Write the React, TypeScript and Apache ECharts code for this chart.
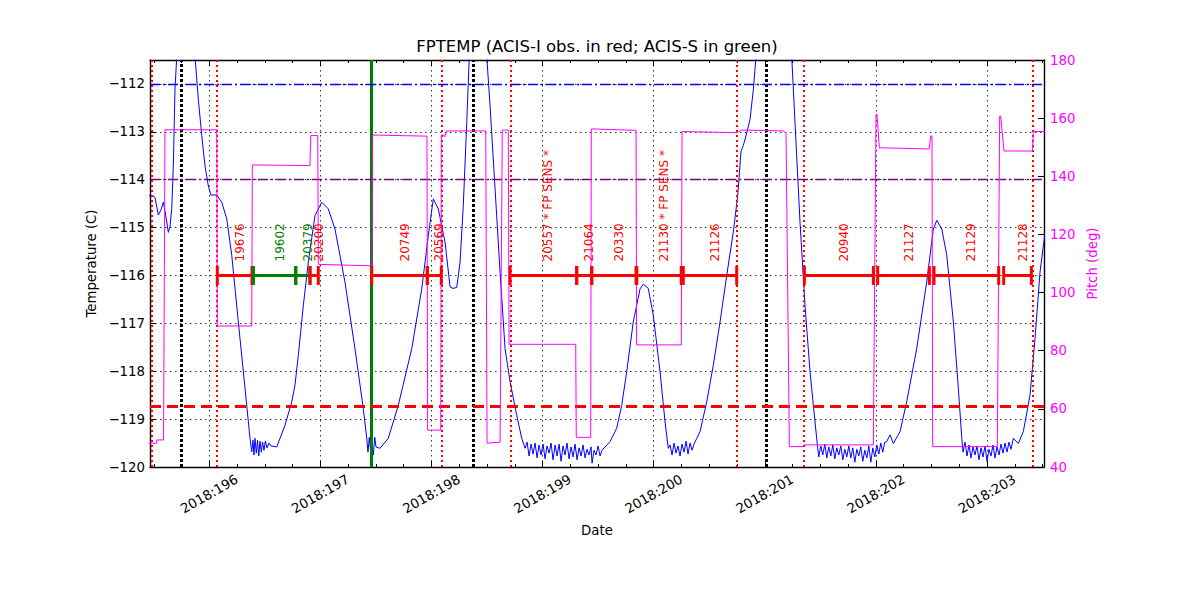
import React, { useEffect, useRef } from "react";
import * as echarts from "echarts";

const FONT = '"DejaVu Sans", "Bitstream Vera Sans", sans-serif';
const RED = "#ff0000";
const GREEN = "#008000";
const BLUE = "#0000ff";
const MAGENTA = "#ff00ff";
const PURPLE = "#800080";

const X_MIN = 195.466;
const X_MAX = 203.513;
const dayTicks = [196, 197, 198, 199, 200, 201, 202, 203];
const minorDayTicks = [
  195.5, 195.75, 196.25, 196.5, 196.75, 197.25, 197.5, 197.75, 198.25, 198.5, 198.75,
  199.25, 199.5, 199.75, 200.25, 200.5, 200.75, 201.25, 201.5, 201.75, 202.25, 202.5,
  202.75, 203.25, 203.5,
];
const tempTicks = [-120, -119, -118, -117, -116, -115, -114, -113, -112];
const pitchTicks = [40, 60, 80, 100, 120, 140, 160, 180];

// FPTEMP (deg C) vs day of year 2018
const fptemp: [number, number][] = [
  [195.448, -114.33], [195.487, -114.33], [195.511, -114.37], [195.541, -114.74], [195.565, -114.63],
  [195.586, -114.47], [195.608, -114.75], [195.631, -115.1], [195.646, -114.98], [195.662, -114.6],
  [195.676, -113.71], [195.691, -112.11], [195.707, -111.42], [195.732, -110.3], [195.772, -109.9],
  [195.817, -110.4], [195.871, -111.42], [195.901, -112.32], [195.932, -113.08], [195.961, -113.71],
  [195.991, -114.13], [196.015, -114.32], [196.067, -114.32], [196.112, -114.47], [196.157, -114.82],
  [196.202, -115.58], [196.261, -116.97], [196.321, -118.35], [196.366, -119.4], [196.382, -119.68],
  [196.393, -119.44], [196.402, -119.75], [196.411, -119.4], [196.423, -119.71], [196.434, -119.44],
  [196.445, -119.77], [196.456, -119.46], [196.468, -119.69], [196.479, -119.48], [196.492, -119.65],
  [196.504, -119.46], [196.519, -119.6], [196.537, -119.5], [196.555, -119.56], [196.607, -119.58],
  [196.681, -119.13], [196.742, -118.64], [196.771, -118.29], [196.801, -117.67], [196.846, -116.63],
  [196.891, -115.72], [196.951, -114.75], [197.012, -114.47], [197.071, -114.61], [197.131, -115.03],
  [197.221, -116.14], [197.311, -117.53], [197.386, -118.78], [197.417, -119.4], [197.428, -119.69],
  [197.44, -119.38], [197.451, -119.65], [197.464, -119.44], [197.476, -119.75], [197.489, -119.38],
  [197.5, -119.58], [197.536, -119.61], [197.611, -119.4], [197.701, -118.71], [197.822, -117.53],
  [197.912, -116.28], [197.971, -115.17], [198.016, -114.4], [198.061, -114.61], [198.122, -115.31],
  [198.167, -116.24], [198.193, -116.27], [198.227, -116.25], [198.257, -115.72], [198.286, -114.54],
  [198.317, -112.81], [198.34, -111.42], [198.365, -110.6], [198.419, -110.0], [198.473, -110.5],
  [198.497, -111.42], [198.527, -112.46], [198.572, -114.19], [198.617, -115.93], [198.662, -117.53],
  [198.707, -118.22], [198.767, -118.92], [198.812, -119.4], [198.842, -119.61],
  [198.86, -119.48], [198.878, -119.77], [198.896, -119.52], [198.914, -119.73], [198.932, -119.5],
  [198.95, -119.81], [198.968, -119.54], [198.986, -119.75], [199.004, -119.52], [199.022, -119.83],
  [199.04, -119.56], [199.058, -119.71], [199.076, -119.5], [199.094, -119.85], [199.112, -119.54],
  [199.13, -119.77], [199.148, -119.52], [199.166, -119.88], [199.184, -119.56], [199.202, -119.75],
  [199.22, -119.5], [199.238, -119.83], [199.256, -119.58], [199.274, -119.79], [199.292, -119.52],
  [199.31, -119.85], [199.328, -119.6], [199.346, -119.77], [199.364, -119.54], [199.382, -119.81],
  [199.4, -119.63], [199.418, -119.75], [199.436, -119.58], [199.445, -119.92], [199.463, -119.65],
  [199.481, -119.75], [199.499, -119.56], [199.517, -119.77], [199.535, -119.65], [199.553, -119.6],
  [199.571, -119.56], [199.607, -119.47], [199.667, -119.19], [199.712, -118.71], [199.757, -118.01],
  [199.816, -116.97], [199.877, -116.28], [199.906, -116.18], [199.951, -116.27], [199.996, -116.83],
  [200.057, -118.01], [200.102, -119.06], [200.131, -119.61], [200.147, -119.54], [200.165, -119.75],
  [200.183, -119.5], [200.201, -119.71], [200.219, -119.56], [200.237, -119.77], [200.255, -119.52],
  [200.273, -119.69], [200.291, -119.46], [200.309, -119.73], [200.327, -119.5], [200.345, -119.65],
  [200.363, -119.52], [200.417, -119.26], [200.477, -118.64], [200.536, -117.88], [200.597, -116.97],
  [200.657, -116.0], [200.716, -115.1], [200.756, -114.33], [200.786, -113.4], [200.806, -113.29],
  [200.831, -113.08], [200.867, -112.74], [200.897, -112.11], [200.921, -111.42], [201.002, -110.3],
  [201.083, -109.9], [201.182, -110.6], [201.242, -111.42], [201.272, -112.81], [201.317, -114.89],
  [201.362, -116.63], [201.407, -118.01], [201.452, -119.06], [201.473, -119.54],
  [201.486, -119.79], [201.504, -119.56], [201.522, -119.75], [201.54, -119.52], [201.558, -119.81],
  [201.576, -119.58], [201.594, -119.77], [201.612, -119.54], [201.63, -119.83], [201.648, -119.6],
  [201.666, -119.75], [201.684, -119.56], [201.702, -119.85], [201.72, -119.63], [201.738, -119.79],
  [201.756, -119.56], [201.774, -119.81], [201.792, -119.6], [201.81, -119.9], [201.828, -119.63],
  [201.846, -119.77], [201.864, -119.58], [201.882, -119.88], [201.9, -119.65], [201.918, -119.81],
  [201.936, -119.56], [201.954, -119.9], [201.972, -119.6], [201.99, -119.79], [202.008, -119.54],
  [202.026, -119.73], [202.044, -119.5], [202.062, -119.69], [202.08, -119.48], [202.097, -119.47],
  [202.127, -119.33], [202.157, -119.51], [202.217, -119.26], [202.277, -118.64], [202.367, -117.53],
  [202.457, -116.14], [202.517, -115.03], [202.548, -114.85], [202.593, -115.03], [202.638, -115.58],
  [202.697, -116.97], [202.742, -118.36], [202.773, -119.4], [202.784, -119.69], [202.802, -119.48],
  [202.82, -119.77], [202.838, -119.54], [202.856, -119.81], [202.874, -119.58], [202.892, -119.75],
  [202.91, -119.56], [202.928, -119.85], [202.946, -119.6], [202.964, -119.79], [202.982, -119.56],
  [203.0, -119.88], [203.018, -119.63], [203.036, -119.77], [203.054, -119.54], [203.072, -119.81],
  [203.09, -119.58], [203.108, -119.75], [203.126, -119.52], [203.144, -119.71], [203.162, -119.5],
  [203.18, -119.69], [203.198, -119.48], [203.216, -119.63], [203.237, -119.4], [203.282, -119.51],
  [203.327, -119.26], [203.387, -118.5], [203.432, -117.32], [203.477, -115.93], [203.507, -115.38],
  [203.54, -114.85],
];

// Pitch (deg) vs day of year 2018
const pitch: [number, number][] = [
  [195.44, 48.2], [195.527, 48.2], [195.528, 49.3], [195.588, 49.3], [195.601, 156.0],
  [196.067, 156.0], [196.072, 88.5], [196.382, 88.5], [196.387, 143.9], [196.906, 143.7],
  [196.913, 154.0], [196.976, 154.0], [196.981, 109.7], [197.464, 109.2], [197.47, 154.2],
  [197.959, 153.8], [197.965, 52.7], [198.083, 52.7], [198.088, 154.2], [198.106, 154.2],
  [198.12, 153.6], [198.137, 155.6], [198.488, 155.6], [198.5, 48.2], [198.617, 48.5],
  [198.637, 155.9], [198.691, 155.9], [198.698, 82.2], [199.298, 82.2], [199.303, 50.2],
  [199.433, 50.2], [199.438, 156.3], [199.841, 155.8], [199.846, 82.0], [200.248, 82.0],
  [200.255, 155.4], [200.747, 155.0], [200.792, 155.9], [201.167, 155.6], [201.191, 154.8],
  [201.221, 47.0], [201.347, 47.0], [201.353, 47.6], [201.977, 47.6], [202.001, 161.3],
  [202.01, 161.3], [202.031, 149.8], [202.481, 149.4], [202.493, 153.9], [202.505, 153.9],
  [202.511, 47.0], [203.093, 47.0], [203.114, 160.7], [203.123, 160.7], [203.153, 148.7],
  [203.408, 148.7], [203.417, 155.4], [203.531, 155.4],
];

// Observations
const obsIds = [
  "19676", "19602", "20379", "20200", "20749", "20569", "20557 * FP SENS *", "21064",
  "20330", "21130 * FP SENS *", "21126", "20940", "21127", "21129", "21128",
];
const obsStart = [
  196.072, 196.397, 196.778, 196.906, 197.462, 197.962, 198.707, 199.307,
  199.442, 199.848, 200.266, 201.356, 202.016, 202.523, 203.15,
];
const obsStop = [
  196.384, 196.778, 196.906, 196.981, 197.962, 198.088, 199.307, 199.442,
  199.841, 200.248, 200.747, 201.977, 202.481, 203.105, 203.399,
];
const obsDetector = [
  "ACIS-I", "ACIS-S", "ACIS-S", "ACIS-I", "ACIS-I", "ACIS-I", "ACIS-I", "ACIS-I",
  "ACIS-I", "ACIS-I", "ACIS-I", "ACIS-I", "ACIS-I", "ACIS-I", "ACIS-I",
];
const OBS_LEVEL = -116;

const perigeeDays = [195.745, 198.38, 201.013];
const runBoundaryDays = [195.48, 196.072, 198.092, 198.707, 200.747, 201.353, 203.408];
const greenMarkerDays = [197.462];
const planningLimit = -112;
const acisILimit = -114;
const lowLimit = -118.73;

const minus = (v: number) => (v < 0 ? "\u2212" + Math.abs(v) : String(v));

export default function App() {
  const ref = useRef<HTMLDivElement>(null);

  useEffect(() => {
    if (!ref.current) return;
    const chart = echarts.init(ref.current, null, { renderer: "svg" });
    const gridLine = { show: true, lineStyle: { color: "#000", width: 0.8, type: [1.5, 3.5] as any } };
    const spine = { show: true, onZero: false, lineStyle: { color: "#000", width: 1.4 } };
    const baseX = {
      type: "value" as const,
      min: X_MIN,
      max: X_MAX,
      gridIndex: 0,
    };
    const option: any = {
      animation: false,
      backgroundColor: "#fff",
      textStyle: { fontFamily: FONT },
      title: {
        text: "FPTEMP (ACIS-I obs. in red; ACIS-S in green)",
        left: 597,
        top: 38,
        padding: 0,
        textAlign: "center",
        textStyle: { fontFamily: FONT, fontSize: 16.5, fontWeight: "normal", color: "#000" },
      },
      grid: { left: 150, right: 156, top: 60, bottom: 133, show: false, containLabel: false },
      xAxis: [
        {
          ...baseX,
          position: "bottom",
          name: "Date",
          nameLocation: "middle",
          nameGap: 57,
          nameTextStyle: { fontFamily: FONT, fontSize: 13.3, color: "#000" },
          axisLine: spine,
          axisTick: { show: true, inside: true, length: 6, customValues: dayTicks, lineStyle: { color: "#000" } },
          axisLabel: {
            show: true,
            customValues: dayTicks,
            rotate: 30,
            align: "center",
            verticalAlign: "middle",
            margin: 27,
            fontFamily: FONT,
            fontSize: 13.3,
            color: "#000",
            formatter: (v: number) => "2018:" + Math.round(v),
          },
          splitLine: gridLine,
        },
        {
          ...baseX,
          position: "bottom",
          axisLine: { show: false, onZero: false },
          axisTick: { show: true, inside: true, length: 3, customValues: minorDayTicks, lineStyle: { color: "#000" } },
          axisLabel: { show: false },
          splitLine: { show: false },
        },
        {
          ...baseX,
          position: "top",
          axisLine: spine,
          axisTick: { show: true, inside: true, length: 6, customValues: dayTicks, lineStyle: { color: "#000" } },
          axisLabel: { show: false },
          splitLine: { show: false },
        },
        {
          ...baseX,
          position: "top",
          axisLine: { show: false, onZero: false },
          axisTick: { show: true, inside: true, length: 3, customValues: minorDayTicks, lineStyle: { color: "#000" } },
          axisLabel: { show: false },
          splitLine: { show: false },
        },
      ],
      yAxis: [
        {
          type: "value",
          min: -120,
          max: -111.5,
          position: "left",
          name: "Temperature (C)",
          nameLocation: "middle",
          nameRotate: 90,
          nameGap: 43,
          nameTextStyle: { fontFamily: FONT, fontSize: 13.3, color: "#000" },
          axisLine: spine,
          axisTick: { show: true, inside: true, length: 6, customValues: tempTicks, lineStyle: { color: "#000" } },
          axisLabel: {
            show: true,
            customValues: tempTicks,
            margin: 5,
            fontFamily: FONT,
            fontSize: 13.3,
            color: "#000",
            formatter: (v: number) => minus(v),
          },
          splitLine: gridLine,
        },
        {
          type: "value",
          min: 40,
          max: 180,
          interval: 20,
          position: "right",
          name: "Pitch (deg)",
          nameLocation: "middle",
          nameRotate: 90,
          nameGap: 28,
          nameTextStyle: { fontFamily: FONT, fontSize: 13.3, color: MAGENTA },
          axisLine: spine,
          axisTick: { show: true, inside: true, length: 6, customValues: pitchTicks, lineStyle: { color: "#000" } },
          axisLabel: {
            show: true,
            customValues: pitchTicks,
            margin: 6,
            fontFamily: FONT,
            fontSize: 13.3,
            color: MAGENTA,
          },
          splitLine: { show: false },
        },
      ],
      series: [
        {
          type: "line",
          name: "refs",
          data: [],
          xAxisIndex: 0,
          yAxisIndex: 0,
          z: 3,
          markLine: {
            silent: true,
            symbol: ["none", "none"],
            label: { show: false },
            animation: false,
            data: [
              ...runBoundaryDays.map((d) => ({
                xAxis: d,
                lineStyle: { color: RED, width: 2, type: [2, 3], cap: "butt" },
              })),
              ...perigeeDays.map((d) => ({
                xAxis: d,
                lineStyle: { color: "#000", width: 3, type: [3, 2], cap: "butt" },
              })),
              ...greenMarkerDays.map((d) => ({
                xAxis: d,
                lineStyle: { color: GREEN, width: 3, type: "solid" },
              })),
              { yAxis: planningLimit, lineStyle: { color: BLUE, width: 1.4, type: [10, 3, 2, 3] } },
              { yAxis: acisILimit, lineStyle: { color: PURPLE, width: 1.4, type: [10, 3, 2, 3] } },
              { yAxis: lowLimit, lineStyle: { color: RED, width: 3, type: [11, 6] } },
            ],
          },
        },
        {
          type: "line",
          name: "FPTEMP",
          data: fptemp,
          xAxisIndex: 0,
          yAxisIndex: 0,
          showSymbol: false,
          symbol: "none",
          clip: true,
          z: 4,
          lineStyle: { color: BLUE, width: 1 },
        },
        {
          type: "line",
          name: "Pitch",
          data: pitch,
          xAxisIndex: 0,
          yAxisIndex: 1,
          showSymbol: false,
          symbol: "none",
          clip: true,
          z: 5,
          lineStyle: { color: MAGENTA, width: 1 },
        },
        {
          type: "custom",
          name: "Obs",
          xAxisIndex: 0,
          yAxisIndex: 0,
          z: 6,
          encode: { x: [0, 1], y: 3 },
          data: obsIds.map((_, i) => [obsStart[i], obsStop[i], i, OBS_LEVEL]),
          renderItem: (params: any, api: any) => {
            const i = api.value(2);
            const p0 = api.coord([api.value(0), api.value(3)]);
            const p1 = api.coord([api.value(1), api.value(3)]);
            const color = obsDetector[i] === "ACIS-S" ? GREEN : RED;
            const mid = (p0[0] + p1[0]) / 2;
            const st = { stroke: color, lineWidth: 3 };
            return {
              type: "group",
              children: [
                { type: "line", shape: { x1: p0[0], y1: p0[1], x2: p1[0], y2: p1[1] }, style: st },
                { type: "line", shape: { x1: p0[0], y1: p0[1] - 9.5, x2: p0[0], y2: p0[1] + 9.5 }, style: st },
                { type: "line", shape: { x1: p1[0], y1: p1[1] - 9.5, x2: p1[0], y2: p1[1] + 9.5 }, style: st },
                {
                  type: "text",
                  x: mid + 5,
                  y: p0[1] - 14,
                  rotation: Math.PI / 2,
                  style: {
                    text: obsIds[i],
                    fill: color,
                    fontFamily: FONT,
                    fontSize: 12,
                    align: "left",
                    verticalAlign: "middle",
                  },
                },
              ],
            };
          },
        },
      ],
    };
    chart.setOption(option);
    return () => chart.dispose();
  }, []);

  return (
    <div
      ref={ref}
      style={{ position: "fixed", left: 0, top: 0, width: 1200, height: 600, background: "#fff" }}
    />
  );
}
